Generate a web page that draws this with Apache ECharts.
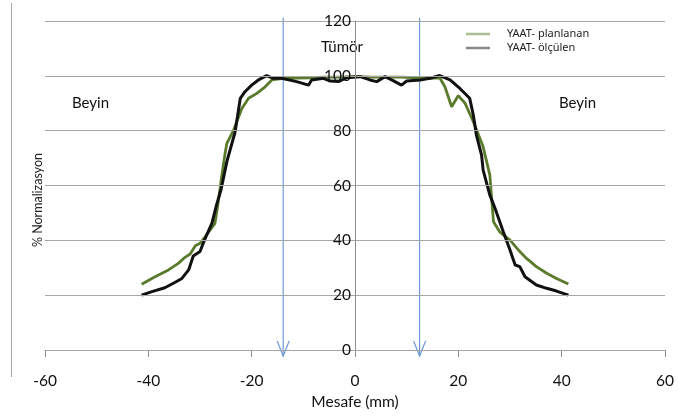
<!DOCTYPE html>
<html><head><meta charset="utf-8">
<script src="https://cdn.jsdelivr.net/npm/echarts@6/dist/echarts.min.js"></script>
<style>html,body{margin:0;padding:0;background:#fff}#c{width:679px;height:416px}</style>
</head><body><div id="c"></div><script>
// YAAT - planlanan (green)
const planX = [-41.3,-38.7,-36.1,-34.2,-32.9,-31.9,-30.9,-30,-29,-27.1,-26.6,-25.9,-25.2,-24.8,-23.5,-21.9,-20.6,-19,-17.4,-16.1,-14.2,-11.6,-9,-6,-3,0,3,6,9,12,14.5,16.4,17.4,18.7,20,21.3,22.9,24.8,26.1,26.8,28,30,31.9,33.2,35.1,37.1,39,41.3];
const planY = [24,26.7,29.2,31.6,33.8,35,38,38.9,41.3,46.2,52.3,62,71,75.4,80.2,88.1,91.8,93.6,96,98.5,99,99.2,99.3,99.5,99.5,99.8,99.5,99.5,99.5,99.3,99.1,99.3,96,88.7,92.8,90,83.3,74.1,63.8,46.8,43.1,40.1,35.9,33.4,30.4,28,26.1,24.1];
// YAAT - ölçülen (black)
const olcX = [-41.3,-39.3,-36.8,-34.8,-33.5,-32.2,-31.3,-30,-29,-27.7,-26.8,-25.9,-24.8,-23.2,-22.2,-21.3,-20,-18.7,-17.1,-15.8,-14.2,-11.3,-9,-8.4,-6.1,-4.8,-3.2,-1.6,1,2.9,4.2,5.8,7.1,9,10,12.6,14.5,16.4,18.4,20.3,22.2,22.9,23.5,24.5,24.8,26.1,27.1,28.7,30,31,31.9,32.9,35.1,37.1,39,41.3];
const olcY = [20,21.3,22.7,24.7,26.1,29.2,34.3,35.9,40.7,46.2,52.9,58.7,68.7,79.6,91.8,94.2,96.6,98.5,100.1,99.1,99.1,97.9,96.6,98.5,99.1,98.1,97.9,99.3,99.7,98.5,97.9,99.7,98.5,96.6,98.1,98.5,99.1,100.1,98.5,95.4,91.8,85.7,78.4,71.1,65.6,56.5,51.7,43.1,36.5,31,30.4,26.7,23.7,22.5,21.5,20];
const arrowX = [-13.9, 12.5];
const seriesNames = ['YAAT- planlanan', 'YAAT- ölçülen'];

const chart = echarts.init(document.getElementById('c'), null, {renderer:'canvas'});
const zip = (a,b) => a.map((v,i)=>[v,b[i]]);
const font = 'Lato';
const gridLeft = 45, gridRight = 14;
const plotW = 679 - gridLeft - gridRight;
// y axis sits at x = 0 of the -60..60 x range
const yAxisOffset = -plotW * (0 - (-60)) / 120;
chart.setOption({
  animation:false,
  backgroundColor:'#fff',
  grid:{left:gridLeft,right:gridRight,top:21,bottom:66,containLabel:false,outerBoundsMode:'none'},
  legend:{
    orient:'vertical', left:466, top:27, padding:0, itemWidth:24, itemHeight:2.5, itemGap:0,
    icon:'rect', selectedMode:false,
    data:seriesNames,
    textStyle:{fontFamily:'Noto Sans', fontSize:11, color:'#222', padding:[0,0,0,12], lineHeight:14},
    itemStyle:{opacity:0.5}
  },
  xAxis:{
    type:'value', min:-60, max:60, interval:20,
    name:'Mesafe (mm)', nameLocation:'middle', nameGap:38,
    nameTextStyle:{fontFamily:font, fontSize:15.5, color:'#111'},
    axisLine:{onZero:false, lineStyle:{color:'#8c8c8c'}},
    axisTick:{show:true, length:7, lineStyle:{color:'#8c8c8c'}},
    axisLabel:{fontFamily:font, fontSize:15.5, color:'#111', margin:23},
    splitLine:{show:false}
  },
  yAxis:{
    type:'value', min:0, max:120, interval:20, z:3,
    offset:yAxisOffset,
    axisLine:{show:true, onZero:false, lineStyle:{color:'#8c8c8c'}},
    axisTick:{show:false},
    axisLabel:{fontFamily:font, fontSize:15.5, color:'#111', margin:4},
    splitLine:{show:true, lineStyle:{color:'#a6a6a6', width:1}}
  },
  graphic:[
    {type:'line', shape:{x1:11.5,y1:3,x2:11.5,y2:377}, style:{stroke:'#a8a8a8', lineWidth:1}},
    {type:'text', x:38, y:200, rotation:Math.PI/2, style:{text:'% Normalizasyon', font:'12.5px Lato', fill:'#222', align:'center', verticalAlign:'middle'}},
    {type:'text', left:72, top:96, style:{text:'Beyin', font:'15px Lato', fill:'#111'}},
    {type:'text', left:559, top:96, style:{text:'Beyin', font:'15px Lato', fill:'#111'}},
    {type:'text', left:321, top:40, style:{text:'Tümör', font:'15px Lato', fill:'#111'}}
  ],
  series:[
    {
      type:'custom', name:'arrows', clip:false, silent:true, z:1,
      data:arrowX.map(v=>[v,0]),
      encode:{x:0,y:1},
      renderItem:(params, api)=>{
        const x = api.value(0);
        const top = api.coord([x,121.2]);
        const bot = api.coord([x,-2.2]);
        const c = '#6e9bd3';
        return {type:'group', children:[
          {type:'line', shape:{x1:top[0],y1:top[1],x2:bot[0],y2:bot[1]}, style:{stroke:c, lineWidth:1.2}},
          {type:'polyline', shape:{points:[[bot[0]-6,bot[1]-15],[bot[0],bot[1]],[bot[0]+6,bot[1]-15]]}, style:{stroke:c, lineWidth:1.2, fill:null}}
        ]};
      }
    },
    {
      type:'line', name:seriesNames[0], data:zip(planX,planY), showSymbol:false, symbol:'none', z:2,
      lineStyle:{color:'#5b7b2c', width:2.8}, itemStyle:{color:'#5b7b2c'}
    },
    {
      type:'line', name:seriesNames[1], data:zip(olcX,olcY), showSymbol:false, symbol:'none', z:2,
      lineStyle:{color:'#111111', width:3}, itemStyle:{color:'#111111'}
    }
  ]
});
</script></body></html>
